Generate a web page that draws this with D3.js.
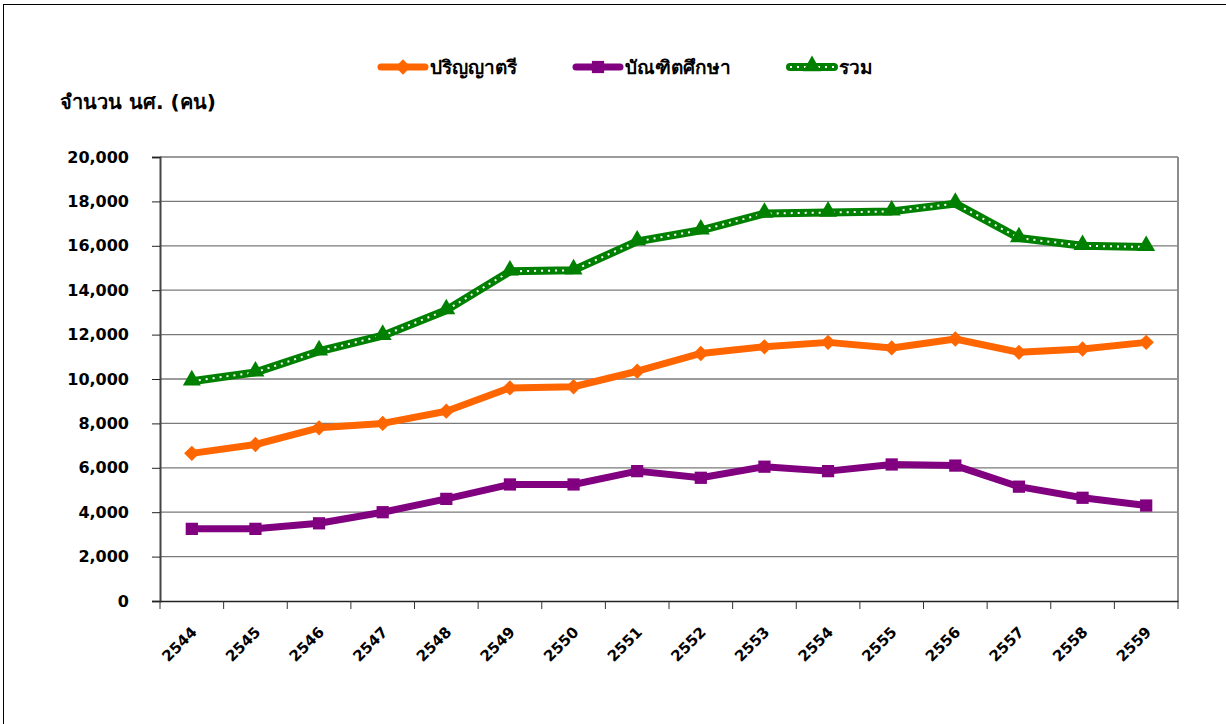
<!DOCTYPE html>
<html>
<head>
<meta charset="utf-8">
<script src="https://cdn.jsdelivr.net/npm/d3@7"></script>
<style>
    body { margin: 0; background: #fff; }
    svg { display: block; font-family: "DejaVu Sans", Verdana, sans-serif; }
    .tick text { font-weight: bold; }
</style>
</head>
<body>
<div id="chart"></div>
<script>
// data
const years = ["2544", "2545", "2546", "2547", "2548", "2549", "2550", "2551",
    "2552", "2553", "2554", "2555", "2556", "2557", "2558", "2559"];
const bachelor = [6650, 7050, 7800, 8000, 8550, 9600, 9650, 10350,
    11150, 11450, 11650, 11400, 11800, 11200, 11350, 11650];
const graduate = [3250, 3250, 3500, 4000, 4600, 5250, 5250, 5850,
    5550, 6050, 5850, 6150, 6100, 5150, 4650, 4300];
const total = [9900, 10300, 11250, 11950, 13100, 14850, 14900, 16200,
    16700, 17450, 17500, 17550, 17900, 16350, 16000, 15950];
const yTicks = [0, 2000, 4000, 6000, 8000, 10000, 12000, 14000, 16000, 18000, 20000];
const seriesNames = ["ปริญญาตรี", "บัณฑิตศึกษา", "รวม"];
const yTitle = "จำนวน นศ. (คน)";

// layout
const W = 1226, H = 724;
const margin = { top: 157, right: 48, bottom: 123, left: 160 },
    width = W - margin.left - margin.right,
    height = H - margin.top - margin.bottom;
const numFont = "'DejaVu Sans', Verdana, sans-serif";

let svg = d3.select("#chart").append("svg")
    .attr("width", W)
    .attr("height", H);

// outer frame (only top/left edges visible)
svg.append("rect")
    .attr("x", 3.5).attr("y", 4.5)
    .attr("width", 1300).attr("height", 800)
    .attr("fill", "none")
    .attr("stroke", "#000")
    .attr("stroke-width", 1);

let group = svg.append("g")
    .attr("transform", `translate(${margin.left},${margin.top})`);

let xScale = d3.scaleBand()
    .domain(years)
    .range([0, width])
    .padding(0);

let yScale = d3.scaleLinear()
    .domain([0, 20000])
    .range([height, 0]);

// gridlines
group.append("g")
    .selectAll("line")
    .data(yTicks.filter(d => d > 0))
    .join("line")
    .attr("x1", 0).attr("x2", width)
    .attr("y1", d => yScale(d)).attr("y2", d => yScale(d))
    .attr("stroke", "#7a7a7a")
    .attr("stroke-width", 1.3);

// right border
group.append("line")
    .attr("x1", width).attr("x2", width)
    .attr("y1", 0).attr("y2", height)
    .attr("stroke", "#8c8c8c")
    .attr("stroke-width", 2);

// y axis
const yAxis = d3.axisLeft(yScale)
    .tickValues(yTicks)
    .tickSize(8)
    .tickPadding(23)
    .tickFormat(d3.format(","));

let yDisplay = group.append("g")
    .attr("class", "axis y-axis")
    .call(yAxis)
    .attr("font-family", numFont)
    .attr("font-size", 16);
yDisplay.select(".domain").attr("stroke", "#444").attr("stroke-width", 2);
yDisplay.selectAll(".tick line").attr("stroke", "#222");
yDisplay.selectAll(".tick text").attr("fill", "#000");

// x axis
const xAxis = d3.axisBottom(xScale).tickSize(0).tickPadding(0);
let xDisplay = group.append("g")
    .attr("class", "axis x-axis")
    .attr("transform", `translate(0,${height})`)
    .call(xAxis)
    .attr("font-family", numFont)
    .attr("font-size", 15);
xDisplay.select(".domain").attr("stroke", "#222").attr("stroke-width", 1.5);
xDisplay.selectAll(".tick text")
    .attr("fill", "#000")
    .attr("text-anchor", "end")
    .attr("dy", 0)
    .attr("transform", "translate(6,32) rotate(-45)");

// category boundary ticks
const bounds = years.map(d => xScale(d)).concat([width]);
xDisplay.append("g")
    .selectAll("line")
    .data(bounds)
    .join("line")
    .attr("x1", d => d).attr("x2", d => d)
    .attr("y1", 0).attr("y2", 8)
    .attr("stroke", "#333")
    .attr("stroke-width", 1);

// y title
svg.append("text")
    .attr("x", 60)
    .attr("y", 109)
    .attr("font-size", 20)
    .attr("font-weight", "bold")
    .text(yTitle);

const cx = (d, i) => xScale(years[i]) + xScale.bandwidth() / 2;

const line = d3.line()
    .x((d, i) => cx(d, i))
    .y(d => yScale(d));

const diamond = d3.symbol().type(d3.symbolDiamond2).size(150);
const square = d3.symbol().type(d3.symbolSquare).size(150);
const triangle = d3.symbol().type(d3.symbolTriangle).size(140);

// total (green dotted)
group.append("path")
    .datum(total)
    .attr("fill", "none")
    .attr("stroke", "#008000")
    .attr("stroke-width", 8)
    .attr("stroke-linejoin", "round")
    .attr("d", line);
group.append("path")
    .datum(total)
    .attr("fill", "none")
    .attr("stroke", "#fff")
    .attr("stroke-width", 2)
    .attr("stroke-dasharray", "2,5")
    .attr("d", line);
group.append("g")
    .selectAll("path")
    .data(total)
    .join("path")
    .attr("transform", (d, i) => `translate(${cx(d, i)},${yScale(d) - 1})`)
    .attr("d", triangle)
    .attr("fill", "#008000");

// bachelor (orange)
group.append("path")
    .datum(bachelor)
    .attr("fill", "none")
    .attr("stroke", "#ff6600")
    .attr("stroke-width", 7)
    .attr("stroke-linejoin", "round")
    .attr("d", line);
group.append("g")
    .selectAll("path")
    .data(bachelor)
    .join("path")
    .attr("transform", (d, i) => `translate(${cx(d, i)},${yScale(d)})`)
    .attr("d", diamond)
    .attr("fill", "#ff6600");

// graduate (purple)
group.append("path")
    .datum(graduate)
    .attr("fill", "none")
    .attr("stroke", "#800080")
    .attr("stroke-width", 7)
    .attr("stroke-linejoin", "round")
    .attr("d", line);
group.append("g")
    .selectAll("path")
    .data(graduate)
    .join("path")
    .attr("transform", (d, i) => `translate(${cx(d, i)},${yScale(d)})`)
    .attr("d", square)
    .attr("fill", "#800080");

// legend
const legendX = [378, 573, 787];
const legendColors = ["#ff6600", "#800080", "#008000"];
const legendSymbols = [diamond, square, triangle];
let legend = svg.append("g").attr("transform", "translate(0,67)");
seriesNames.forEach((name, i) => {
    let g = legend.append("g").attr("transform", `translate(${legendX[i]},0)`);
    g.append("line")
        .attr("x1", 3).attr("x2", 47)
        .attr("stroke", legendColors[i])
        .attr("stroke-width", i === 2 ? 8 : 7)
        .attr("stroke-linecap", "round");
    if (i === 2) {
        g.append("line")
            .attr("x1", 3).attr("x2", 47)
            .attr("stroke", "#fff")
            .attr("stroke-width", 2)
            .attr("stroke-dasharray", "2,5");
    }
    g.append("path")
        .attr("transform", `translate(25,${i === 2 ? -1 : 0})`)
        .attr("d", legendSymbols[i])
        .attr("fill", legendColors[i]);
    g.append("text")
        .attr("x", 52)
        .attr("y", 7)
        .attr("font-size", 19)
        .attr("font-weight", "bold")
        .text(name);
});
</script>
</body>
</html>
